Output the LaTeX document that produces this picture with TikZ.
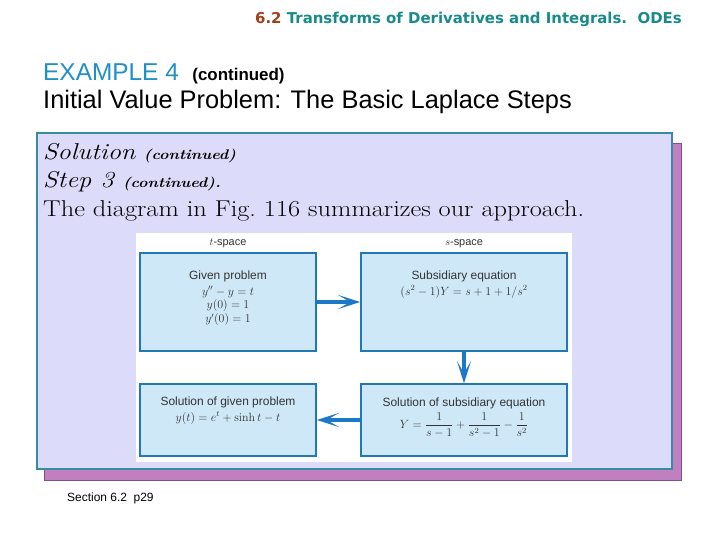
\documentclass[tikz,border=0pt]{standalone}
\usepackage{fontspec}
\usepackage{amsmath}
\usetikzlibrary{positioning,arrows.meta}
\newfontfamily\arialfont{Liberation Sans}
\newfontfamily\headfont{DejaVu Sans}
\newfontfamily\bodyfont[FakeStretch=1.15]{Latin Modern Roman}
\definecolor{secnum}{RGB}{160,64,28}
\definecolor{headteal}{RGB}{24,138,138}
\definecolor{exblue}{RGB}{30,144,196}
\definecolor{framefill}{RGB}{220,220,250}
\definecolor{frameline}{RGB}{56,140,160}
\definecolor{shadowfill}{RGB}{192,128,192}
\definecolor{shadowline}{RGB}{128,80,138}
\definecolor{boxfill}{RGB}{207,232,248}
\definecolor{boxline}{RGB}{34,120,180}
\definecolor{flowblue}{RGB}{30,120,200}
\tikzset{
  stepbox/.style={draw=boxline, fill=boxfill, line width=1.6bp, inner sep=0pt,
    minimum width=#1},
  boxtext/.style={anchor=north, align=center, inner sep=0pt, text=black!80,
    font=\arialfont\fontsize{12}{14}\selectfont},
  spacelabel/.style={inner sep=0pt, text=black!80, font=\arialfont\fontsize{11}{13}\selectfont},
  flow/.style={draw=flowblue, line width=3.5bp,
    -{Stealth[length=22bp, width=14bp, inset=12bp]}}
}
\begin{document}
\begin{tikzpicture}[x=1bp, y=-1bp]
	\useasboundingbox (0,0) rectangle (720,540);

	% Headings
	\node[anchor=base east, inner sep=0pt, font=\headfont\bfseries\fontsize{15}{17}\selectfont]
		(head) at (682,24) {\textcolor{secnum}{6.2} \textcolor{headteal}{Transforms of Derivatives and Integrals.\ \ ODEs}};
	\node[anchor=base west, inner sep=0pt, font=\arialfont\fontsize{24.5}{28}\selectfont]
		(example) at (43,81) {\textcolor{exblue}{EXAMPLE 4}\ \ {\bfseries\fontsize{17}{20}\selectfont(continued)}};
	\node[anchor=base west, inner sep=0pt, font=\arialfont\fontsize{25.5}{28}\selectfont]
		(title) at (43,109) {Initial Value Problem: The Basic Laplace Steps};

	% Frame with shadow
	\draw[fill=shadowfill, draw=shadowline, line width=1bp] (44,144) rectangle (681,480);
	\draw[fill=framefill, draw=frameline, line width=1.2bp] (37,133) rectangle (672,469);

	\node[anchor=base west, inner sep=0pt, font=\bodyfont\fontsize{23}{26}\selectfont]
		(sol) at (43,160) {\textit{Solution} {\bfseries\itshape\fontsize{14}{16}\selectfont(continued)}};
	\node[anchor=base west, inner sep=0pt, font=\bodyfont\fontsize{23}{26}\selectfont]
		(step) at (43,188) {\textit{Step 3} {\bfseries\itshape\fontsize{14}{16}\selectfont(continued).}};
	\node[anchor=base west, inner sep=0pt, font=\bodyfont\fontsize{23}{26}\selectfont]
		(fig) at (43,217) {The diagram in Fig.~116 summarizes our approach.};

	% Diagram
	\fill[white] (136,233) rectangle (572,462);

	\node[stepbox=176bp, minimum height=98bp] (given) at (228,302) {};
	\node[stepbox=206bp, minimum height=98bp] (subsid) at (464,302) {};
	\node[stepbox=176bp, minimum height=72bp] (solgiven) at (228,420) {};
	\node[stepbox=206bp, minimum height=72bp] (solsubsid) at (464,420) {};

	\node[spacelabel, above=4bp of given] {$t$-space};
	\node[spacelabel, above=4bp of subsid] {$s$-space};

	\node[boxtext, below=18bp of given.north] {Given problem\\[2bp]
		$y''-y=t$\\ $y(0)=1$\\ $y'(0)=1$};
	\node[boxtext, below=18bp of subsid.north] {Subsidiary equation\\[2bp]
		$(s^2-1)Y=s+1+1/s^2$};
	\node[boxtext, below=13bp of solgiven.north] {Solution of given problem\\[2bp]
		$y(t)=e^t+\sinh t-t$};
	\node[boxtext, below=14bp of solsubsid.north] {Solution of subsidiary equation\\[3bp]
		$Y=\dfrac{1}{s-1}+\dfrac{1}{s^2-1}-\dfrac{1}{s^2}$};

	\draw[flow] (given) -- (subsid);
	\draw[flow] (subsid) -- (solsubsid);
	\draw[flow] (solsubsid) -- (solgiven);

	% Footer
	\node[anchor=base west, inner sep=0pt, font=\arialfont\fontsize{12}{14}\selectfont]
		(foot) at (67,501) {Section 6.2\ \ p29};
\end{tikzpicture}
\end{document}
